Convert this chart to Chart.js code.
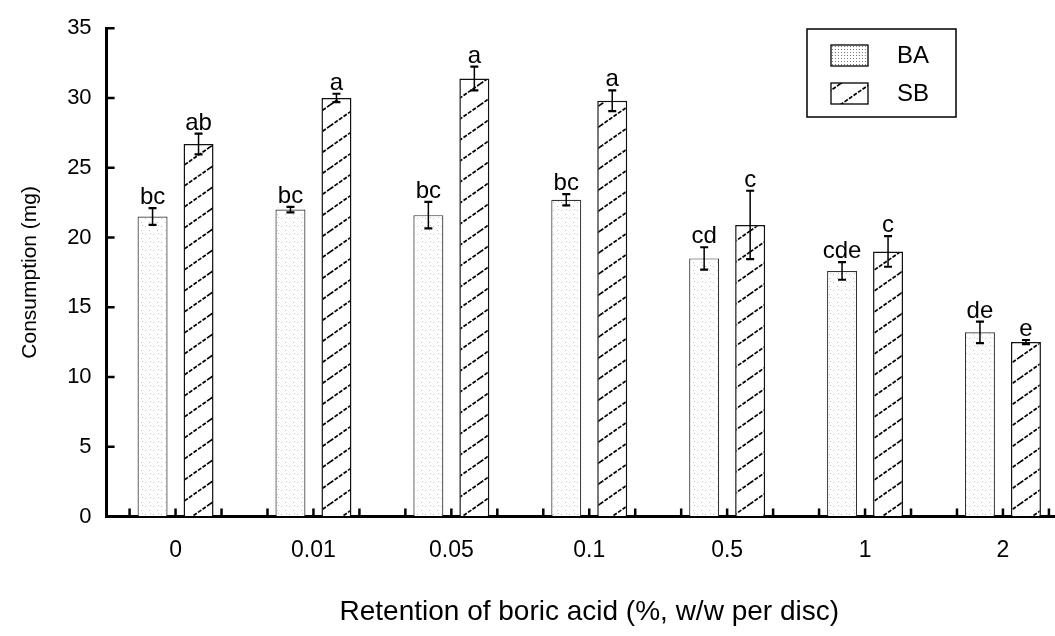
<!DOCTYPE html>
<html>
<head>
<meta charset="utf-8">
<script src="https://cdn.jsdelivr.net/npm/chart.js@4.4.1/dist/chart.umd.min.js"></script>
<style>
  html, body { margin: 0; padding: 0; background: #fff; overflow: hidden; }
  #wrap { position: relative; width: 1080px; height: 636px; }
</style>
</head>
<body>
<div id="wrap"><canvas id="chart"></canvas></div>
<script>
// data
const categories = ['0', '0.01', '0.05', '0.1', '0.5', '1', '2'];
const baValues = [21.5, 22.0, 21.6, 22.7, 18.5, 17.6, 13.2];
const baErrors = [0.6, 0.2, 0.95, 0.4, 0.8, 0.63, 0.77];
const baLetters = ['bc', 'bc', 'bc', 'bc', 'cd', 'cde', 'de'];
const sbValues = [26.7, 30.0, 31.4, 29.8, 20.9, 19.0, 12.5];
const sbErrors = [0.75, 0.3, 0.85, 0.75, 2.45, 1.1, 0.15];
const sbLetters = ['ab', 'a', 'a', 'a', 'c', 'c', 'e'];
const yTicks = [0, 5, 10, 15, 20, 25, 30, 35];

const FONT = "'Liberation Sans', Arial, Helvetica, sans-serif";

function stipple(step, dots, color) {
  const c = document.createElement('canvas');
  c.width = step; c.height = step;
  const g = c.getContext('2d');
  g.fillStyle = '#fff';
  g.fillRect(0, 0, step, step);
  g.fillStyle = color;
  dots.forEach(([x, y]) => g.fillRect(x, y, 1, 1));
  return g.createPattern(c, 'repeat');
}

function hatch(w, h) {
  const c = document.createElement('canvas');
  c.width = w; c.height = h;
  const g = c.getContext('2d');
  g.fillStyle = '#fff';
  g.fillRect(0, 0, w, h);
  g.strokeStyle = '#000';
  g.lineWidth = 1.7;
  g.setLineDash([4, 1.5]);
  [[0, 0], [-w, 0], [w, 0], [0, -h], [0, h]].forEach(([dx, dy]) => {
    g.beginPath();
    g.moveTo(dx, h + dy);
    g.lineTo(w + dx, dy);
    g.stroke();
  });
  return g.createPattern(c, 'repeat');
}

const baFill = stipple(8, [[1, 2], [5, 6], [6, 1]], 'rgba(130,130,130,0.5)');
const baSwatch = stipple(3, [[1, 1]], 'rgba(90,90,90,0.8)');
const sbFill = hatch(30, 21);

const errs = [baErrors, sbErrors];
const letters = [baLetters, sbLetters];

const errorBars = {
  id: 'errorBars',
  afterDatasetsDraw(chart) {
    const { ctx } = chart;
    const y = chart.scales.y;
    ctx.save();
    ctx.strokeStyle = '#000';
    ctx.fillStyle = '#000';
    ctx.font = '24px ' + FONT;
    ctx.textAlign = 'center';
    ctx.textBaseline = 'alphabetic';
    chart.data.datasets.forEach((ds, di) => {
      chart.getDatasetMeta(di).data.forEach((bar, i) => {
        const v = ds.data[i], e = errs[di][i];
        const top = y.getPixelForValue(v + e);
        const bot = y.getPixelForValue(v - e);
        ctx.lineWidth = 1.5;
        ctx.beginPath();
        ctx.moveTo(bar.x, top); ctx.lineTo(bar.x, bot);
        ctx.stroke();
        ctx.lineWidth = 2.2;
        ctx.beginPath();
        ctx.moveTo(bar.x - 4, top); ctx.lineTo(bar.x + 4, top);
        ctx.moveTo(bar.x - 4, bot); ctx.lineTo(bar.x + 4, bot);
        ctx.stroke();
        ctx.fillText(letters[di][i], bar.x, top - 4);
      });
    });
    ctx.restore();
  }
};

// inward ticks on both axes + boxed legend
const axisTicks = {
  id: 'axisTicks',
  afterDraw(chart) {
    const { ctx, chartArea } = chart;
    const { x, y } = chart.scales;
    ctx.save();
    ctx.strokeStyle = '#000';
    ctx.lineWidth = 2.5;
    ctx.beginPath();
    yTicks.forEach(t => {
      const py = y.getPixelForValue(t);
      ctx.moveTo(chartArea.left, py); ctx.lineTo(chartArea.left + 8, py);
    });
    const cw = x.getPixelForValue(1) - x.getPixelForValue(0);
    categories.forEach((c, i) => {
      [-1 / 3, 0, 1 / 3].forEach(k => {
        const px = x.getPixelForValue(i) + k * cw;
        ctx.moveTo(px, chartArea.bottom); ctx.lineTo(px, chartArea.bottom - 8);
      });
    });
    ctx.stroke();

    // legend
    ctx.lineWidth = 1.5;
    ctx.strokeRect(807, 29, 149, 88);
    const rows = [{ fill: baSwatch, y: 45 }, { fill: sbFill, y: 83 }];
    ctx.font = '24px ' + FONT;
    ctx.textBaseline = 'middle';
    ctx.textAlign = 'left';
    rows.forEach((r, i) => {
      ctx.fillStyle = r.fill;
      ctx.fillRect(831, r.y, 37, 21);
      ctx.lineWidth = 1.3;
      ctx.strokeRect(831, r.y, 37, 21);
      ctx.fillStyle = '#000';
      ctx.fillText(chart.data.datasets[i].label, 897, r.y + 11);
    });
    ctx.restore();
  }
};

Chart.defaults.font.family = FONT;
Chart.defaults.color = '#000';

new Chart(document.getElementById('chart'), {
  type: 'bar',
  data: {
    labels: categories,
    datasets: [
      { label: 'BA', data: baValues, backgroundColor: baFill, borderColor: '#333', borderWidth: 1.2 },
      { label: 'SB', data: sbValues, backgroundColor: sbFill, borderColor: '#111', borderWidth: 1.5 }
    ]
  },
  options: {
    responsive: true,
    maintainAspectRatio: false,
    animation: false,
    categoryPercentage: 0.667,
    barPercentage: 0.652,
    layout: { padding: { top: 15.3, right: 8.1, left: 0, bottom: 0 } },
    plugins: { legend: { display: false }, tooltip: { enabled: false } },
    scales: {
      x: {
        z: 1,
        grid: { display: true, drawOnChartArea: false, drawTicks: false },
        border: { display: true, color: '#000', width: 3 },
        ticks: { font: { size: 23 }, padding: 20.7, color: '#000' },
        title: {
          display: true,
          text: 'Retention of boric acid (%, w/w per disc)',
          font: { size: 28 },
          padding: { top: 0, bottom: 7.2 },
          color: '#000'
        },
        afterFit(s) { s.height = 119.5; }
      },
      y: {
        z: 1,
        min: 0,
        max: 35,
        afterBuildTicks(s) { s.ticks = yTicks.map(v => ({ value: v })); },
        grid: { display: true, drawOnChartArea: false, drawTicks: false },
        border: { display: true, color: '#000', width: 3 },
        ticks: { font: { size: 22 }, padding: 15, color: '#000' },
        title: {
          display: true,
          text: 'Consumption (mg)',
          font: { size: 21 },
          padding: { top: 17.4, bottom: 0 },
          color: '#000'
        },
        afterFit(s) { s.width = 106.6; }
      }
    }
  },
  plugins: [errorBars, axisTicks]
});
</script>
</body>
</html>
